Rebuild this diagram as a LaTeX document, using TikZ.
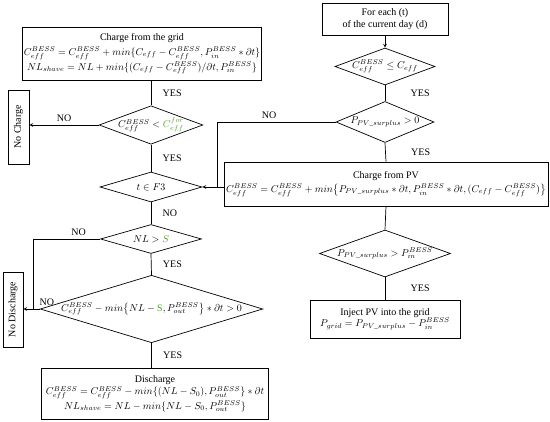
\documentclass[tikz,border=0pt]{standalone}
\usepackage{amsmath}
\usepackage{fontspec}
\setmainfont{Liberation Serif}
\usetikzlibrary{shapes.geometric}
\definecolor{sgreen}{RGB}{84,160,44}

\begin{document}
\begin{tikzpicture}[x=1pt, y=-1pt, >=stealth, line width=0.7pt,
    font=\fontsize{10}{12}\selectfont,
    block/.style={draw, rectangle, align=center, inner sep=1pt},
    decision/.style={draw, diamond, inner sep=0pt},
    sidebox/.style={draw, rectangle, rotate=90, inner sep=1pt}]

\useasboundingbox (0,0) rectangle (550,422);

% time loop and PV branch (right column)
\node[block, minimum width=126, minimum height=32] (start) at (385,19)
    {For each (t)\\ of the current day (d)};
\node[decision, minimum width=100, minimum height=37, aspect=2.7] (cap) at (385,66.5)
    {$C_{eff}^{BESS}\leq C_{eff}$};
\node[decision, minimum width=98, minimum height=41, aspect=2.4] (surplus) at (385,122)
    {$P_{PV\_surplus}>0$};
\node[block, minimum width=324, minimum height=44] (pv) at (386,184)
    {Charge from PV\\[2pt]
     $C_{eff}^{BESS}=C_{eff}^{BESS}+min\bigl\{P_{PV\_surplus}*\partial t,P_{in}^{BESS}*\partial t,(C_{eff}-C_{eff}^{BESS})\bigr\}$};
\node[decision, minimum width=131, minimum height=47, aspect=2.8] (excess) at (385,253.5)
    {$P_{PV\_surplus}>P_{in}^{BESS}$};
\node[block, minimum width=150, minimum height=38] (inject) at (385,319)
    {Inject PV into the grid\\[-1pt] $P_{grid}=P_{PV\_surplus}-P_{in}^{BESS}$};

% grid charging and discharging (left column)
\node[block, minimum width=220, minimum height=53, anchor=north] (grid) at (142,27)
    {Charge from the grid\\[3pt]
     $C_{eff}^{BESS}=C_{eff}^{BESS}+min\{C_{eff}-C_{eff}^{BESS},P_{in}^{BESS}*\partial t\}$\\[1pt]
     $NL_{shave}=NL+min\{(C_{eff}-C_{eff}^{BESS})/\partial t,P_{in}^{BESS}\}$};
\node[decision, minimum width=102, minimum height=38, aspect=2.7] (forecast) at (151,125)
    {$C_{eff}^{BESS}<\textcolor{sgreen}{C_{eff}^{for}}$};
\node[decision, minimum width=102, minimum height=30, aspect=3.4] (offpeak) at (151,187)
    {$t\in F3$};
\node[decision, minimum width=101, minimum height=29, aspect=3.4] (load) at (151,239)
    {$NL>\textcolor{sgreen}{S}$};
\node[decision, minimum width=213, minimum height=65, aspect=3.3] (energy) at (151.5,309)
    {$C_{eff}^{BESS}-min\bigl\{NL-\textcolor{sgreen}{\mathrm{S}},P_{out}^{BESS}\bigr\}*\partial t>0$};
\node[block, minimum width=227, minimum height=51, anchor=north] (disch) at (155,368)
    {Discharge\\[0pt]
     $C_{eff}^{BESS}=C_{eff}^{BESS}-min\{(NL-S_0),P_{out}^{BESS}\}*\partial t$\\[1pt]
     $NL_{shave}=NL-min\{NL-S_0,P_{out}^{BESS}\}$};

% idle states
\node[sidebox, minimum width=74, minimum height=21] (nocharge) at (18.5,127) {No Charge};
\node[sidebox, minimum width=75, minimum height=20] (nodisch) at (13,309.5) {No Discharge};

% left connectors
\draw (grid.south -| forecast.north) -- node[right=8pt] {YES} (forecast.north);
\draw[->] (forecast.west) -- node[above] {NO} (forecast.west -| nocharge.south);
\draw (forecast.south) -- node[right=8pt] {YES} (offpeak.north);
\draw (offpeak.south) -- node[right=8pt] {NO} (load.north);
\coordinate (disjoin) at (33,309);
\draw (load.west) -| node[above, pos=0.16] {NO} (disjoin);
\draw (load.south) -- node[right=8pt] {YES} (energy.north);
\draw[->] (energy.west) -- node[pos=0, above, xshift=7pt] {NO} (energy.west -| nodisch.south);
\draw (energy.south) -- node[right=8pt] {YES} (energy.south |- disch.north);

% right connectors
\draw[->] (start.south) -- (cap.north);
\draw (cap.south) -- node[right=22pt] {YES} (surplus.north);
\coordinate (pvjoin) at (217,187);
\draw (surplus.west) -| node[above, pos=0.28] {NO} (pvjoin);
\draw[->] (pv.west |- offpeak.east) -- (offpeak.east);
\draw (surplus.south) -- node[right=22pt] {YES} (pv.north);
\draw (pv.south) -- (excess.north);
\draw (excess.south) -- node[right=22pt] {YES} (inject.north);

\end{tikzpicture}
\end{document}
